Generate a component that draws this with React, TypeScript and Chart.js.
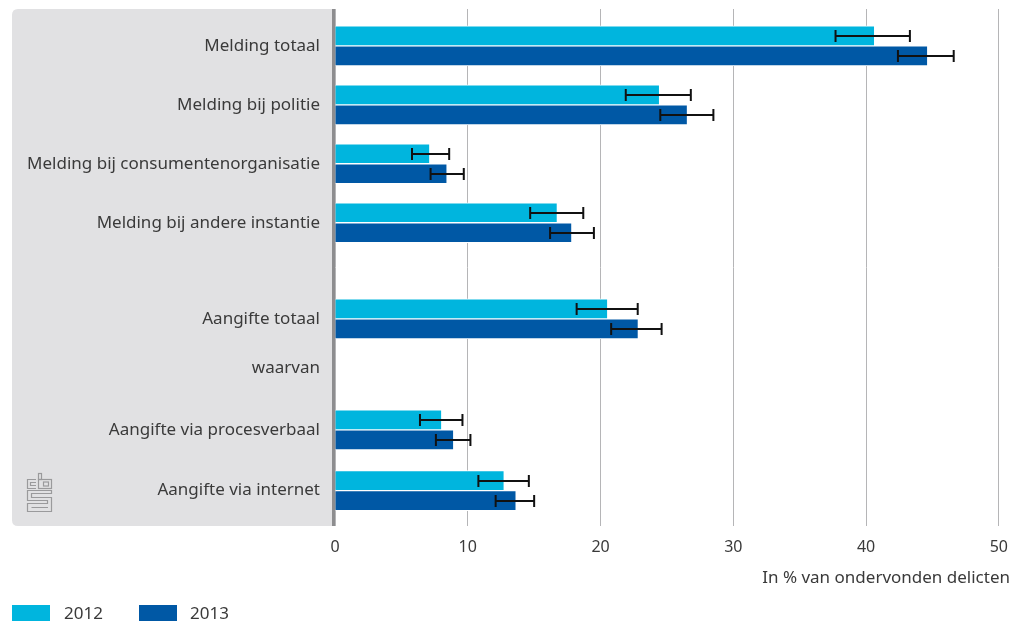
import React, { useEffect, useRef } from 'react';
import { Chart, registerables } from 'chart.js';

Chart.register(...registerables);

// ---------- data ----------
const categories = [
  'Melding totaal',
  'Melding bij politie',
  'Melding bij consumentenorganisatie',
  'Melding bij andere instantie',
  'Aangifte totaal',
  'waarvan',
  'Aangifte via procesverbaal',
  'Aangifte via internet',
];
// row positions on the (linear) category axis; the original has uneven spacing
const rowPositions = [0, 1, 2, 3, 4.63, 5.46, 6.51, 7.54];

const seriesNames = ['2012', '2013'];
const values2012 = [40.6, 24.4, 7.1, 16.7, 20.5, null, 8.0, 12.7];
const low2012 = [37.7, 21.9, 5.8, 14.7, 18.2, null, 6.4, 10.8];
const high2012 = [43.3, 26.8, 8.6, 18.7, 22.8, null, 9.6, 14.6];
const values2013 = [44.6, 26.5, 8.4, 17.8, 22.8, null, 8.9, 13.6];
const low2013 = [42.4, 24.5, 7.2, 16.2, 20.8, null, 7.6, 12.1];
const high2013 = [46.6, 28.5, 9.7, 19.5, 24.6, null, 10.2, 15.0];

const xTicks = [0, 10, 20, 30, 40, 50];
const xTitle = 'In % van ondervonden delicten';

const colors = ['#00b5de', '#0058a5'];
const FONT = '"Noto Sans", sans-serif';
const TEXT = '#3a3a3a';

function toPoints(vals: (number | null)[], lo: (number | null)[], hi: (number | null)[]) {
  const pts: any[] = [];
  vals.forEach((v, i) => {
    if (v !== null) pts.push({ x: v, y: rowPositions[i], lo: lo[i], hi: hi[i] });
  });
  return pts;
}

const decorPlugin = {
  id: 'decor',
  beforeDraw(chart: any) {
    const { ctx, chartArea } = chart;
    const left = 12;
    const right = chartArea.left - 3;
    const top = chartArea.top;
    const bottom = chartArea.bottom;
    const r = 6;
    ctx.save();
    ctx.fillStyle = '#e1e1e3';
    ctx.beginPath();
    ctx.moveTo(right, top);
    ctx.lineTo(left + r, top);
    ctx.quadraticCurveTo(left, top, left, top + r);
    ctx.lineTo(left, bottom - r);
    ctx.quadraticCurveTo(left, bottom, left + r, bottom);
    ctx.lineTo(right, bottom);
    ctx.closePath();
    ctx.fill();

    // CBS logo (simplified)
    ctx.strokeStyle = '#9a9a9c';
    ctx.lineWidth = 1.2;
    const s = (x: number, y: number, w: number, h: number) => ctx.strokeRect(x + 0.5, y + 0.5, w, h);
    // "c"
    ctx.beginPath();
    ctx.moveTo(36, 479.5);
    ctx.lineTo(27.5, 479.5);
    ctx.lineTo(27.5, 488.5);
    ctx.lineTo(36, 488.5);
    ctx.moveTo(36, 482.5);
    ctx.lineTo(30.5, 482.5);
    ctx.lineTo(30.5, 485.5);
    ctx.lineTo(36, 485.5);
    ctx.stroke();
    // "b"
    s(38, 473, 3, 6);
    s(38, 479, 13, 9);
    s(43, 481.5, 5, 4);
    // "S"
    ctx.beginPath();
    ctx.moveTo(51.5, 490.5);
    ctx.lineTo(27.5, 490.5);
    ctx.lineTo(27.5, 500.5);
    ctx.lineTo(47.5, 500.5);
    ctx.lineTo(47.5, 503.5);
    ctx.lineTo(27.5, 503.5);
    ctx.lineTo(27.5, 511.5);
    ctx.lineTo(51.5, 511.5);
    ctx.lineTo(51.5, 497.5);
    ctx.lineTo(31.5, 497.5);
    ctx.lineTo(31.5, 493.5);
    ctx.lineTo(51.5, 493.5);
    ctx.closePath();
    ctx.moveTo(31.5, 507.5);
    ctx.lineTo(48, 507.5);
    ctx.stroke();
    ctx.restore();
  },
  afterDatasetsDraw(chart: any) {
    const { ctx, chartArea, scales } = chart;
    const xs = scales.x;
    ctx.save();
    // error bars
    ctx.strokeStyle = '#111111';
    ctx.lineWidth = 2;
    chart.data.datasets.forEach((ds: any, di: number) => {
      const meta = chart.getDatasetMeta(di);
      meta.data.forEach((bar: any, k: number) => {
        const d = ds.data[k];
        const y = Math.round(bar.y);
        const x1 = xs.getPixelForValue(d.lo);
        const x2 = xs.getPixelForValue(d.hi);
        ctx.beginPath();
        ctx.moveTo(x1, y);
        ctx.lineTo(x2, y);
        ctx.moveTo(x1, y - 6);
        ctx.lineTo(x1, y + 6);
        ctx.moveTo(x2, y - 6);
        ctx.lineTo(x2, y + 6);
        ctx.stroke();
      });
    });
    // vertical axis line
    ctx.fillStyle = '#8d8d8f';
    ctx.fillRect(chartArea.left - 3, chartArea.top, 3, chartArea.bottom - chartArea.top);
    ctx.restore();
  },
  afterDraw(chart: any) {
    const { ctx } = chart;
    ctx.save();
    ctx.fillStyle = TEXT;
    ctx.font = '17px ' + FONT;
    ctx.textAlign = 'right';
    ctx.textBaseline = 'middle';
    ctx.fillText(xTitle, 1010, 578);
    // legend
    const items = [
      { x: 12, tx: 64 },
      { x: 139, tx: 190 },
    ];
    items.forEach((it, i) => {
      ctx.fillStyle = colors[i];
      ctx.fillRect(it.x, 605, 38, 16);
      ctx.fillStyle = TEXT;
      ctx.textAlign = 'left';
      ctx.fillText(seriesNames[i], it.tx, 614);
    });
    ctx.restore();
  },
};

export default function App() {
  const ref = useRef<HTMLCanvasElement | null>(null);
  useEffect(() => {
    if (!ref.current) return;
    const chart = new Chart(ref.current, {
      type: 'bar',
      data: {
        datasets: [
          {
            label: seriesNames[0],
            data: toPoints(values2012, low2012, high2012),
            backgroundColor: colors[0],
            borderColor: '#ffffff',
            borderWidth: { top: 1, bottom: 1, left: 0, right: 0 },
            borderSkipped: false,
            barThickness: 20,
          },
          {
            label: seriesNames[1],
            data: toPoints(values2013, low2013, high2013),
            backgroundColor: colors[1],
            borderColor: '#ffffff',
            borderWidth: { top: 1, bottom: 1, left: 0, right: 0 },
            borderSkipped: false,
            barThickness: 20,
          },
        ],
      },
      options: {
        indexAxis: 'y',
        animation: false,
        responsive: false,
        layout: { padding: { top: 9, right: 19, left: 0, bottom: 0 } },
        plugins: {
          legend: { display: false },
          tooltip: { enabled: false },
        },
        scales: {
          x: {
            type: 'linear',
            min: 0,
            max: 50,
            afterBuildTicks: (scale: any) => {
              scale.ticks = xTicks.map((v) => ({ value: v }));
            },
            afterFit: (scale: any) => {
              scale.height = 97;
            },
            grid: { color: '#b5b5b7', lineWidth: 1, drawTicks: false },
            border: { display: false },
            ticks: {
              padding: 12,
              color: TEXT,
              font: { family: FONT, size: 16 },
            },
          },
          y: {
            type: 'linear',
            reverse: true,
            offset: false,
            min: -0.624,
            max: 8.14,
            afterBuildTicks: (scale: any) => {
              scale.ticks = rowPositions.map((v) => ({ value: v }));
            },
            afterFit: (scale: any) => {
              scale.width = 335;
              scale.paddingTop = 0;
              scale.paddingBottom = 0;
            },
            grid: { display: false, drawTicks: false, offset: false },
            border: { display: false },
            ticks: {
              autoSkip: false,
              padding: 15,
              color: TEXT,
              font: { family: FONT, size: 17 },
              callback: (_v: any, i: number) => categories[i],
            },
          },
        },
      },
      plugins: [decorPlugin],
    } as any);
    return () => chart.destroy();
  }, []);
  return (
    <div style={{ position: 'fixed', left: 0, top: 0, width: 1020, height: 623, background: '#fff' }}>
      <canvas ref={ref} width={1020} height={623} />
    </div>
  );
}
